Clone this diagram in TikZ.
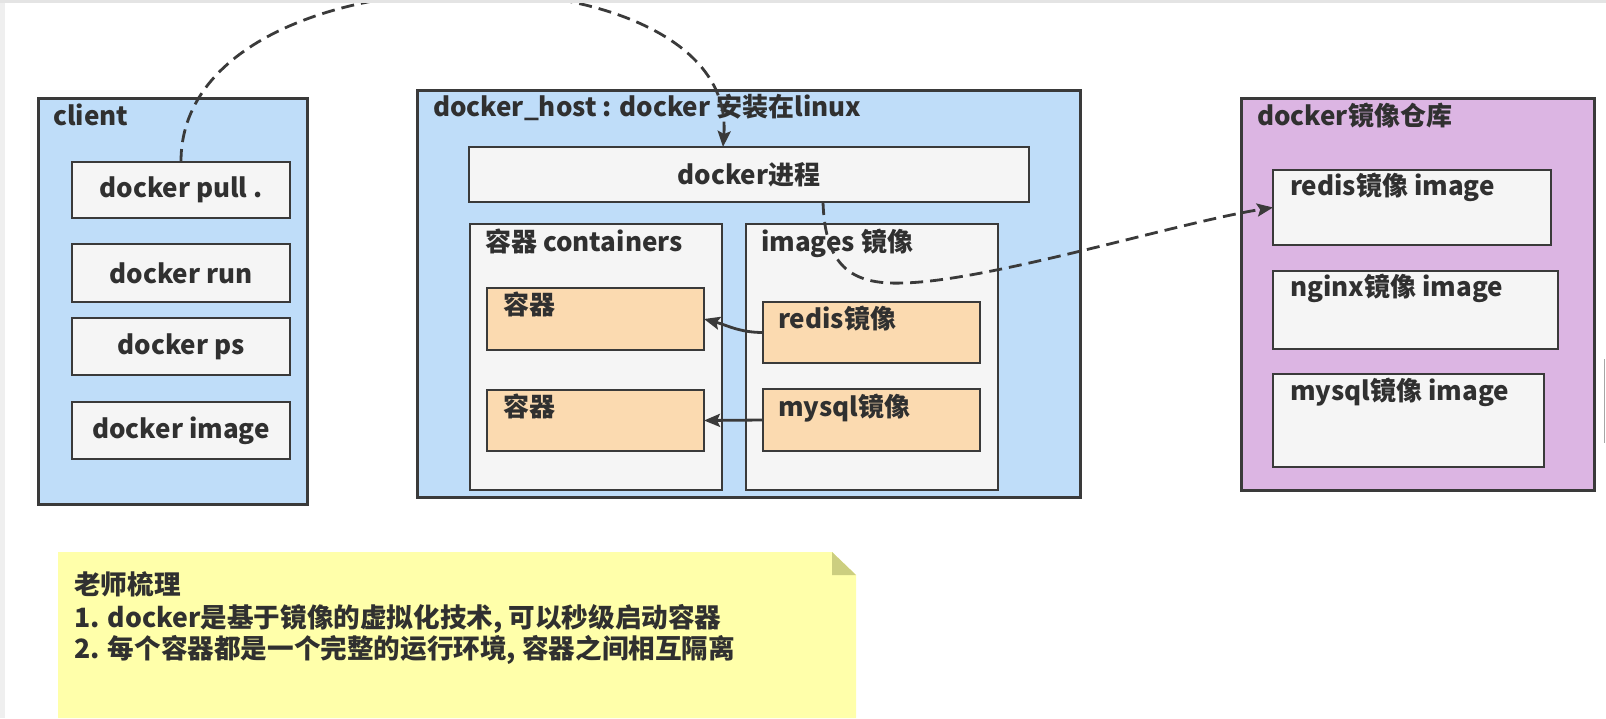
\documentclass[tikz,border=0pt]{standalone}
\usepackage{fontspec}
\setmainfont{Noto Sans CJK SC}
\usetikzlibrary{arrows.meta,calc}
\definecolor{bluefill}{RGB}{191,221,249}
\definecolor{grayfill}{RGB}{245,245,245}
\definecolor{orangefill}{RGB}{251,218,176}
\definecolor{purplefill}{RGB}{220,181,227}
\definecolor{notefill}{RGB}{255,255,170}
\definecolor{notefold}{RGB}{204,206,128}
\definecolor{edge}{RGB}{58,58,58}
\definecolor{txt}{RGB}{48,48,48}
\definecolor{framegray}{RGB}{228,228,228}
\begin{document}
\begin{tikzpicture}[x=1pt,y=-1pt,
  boxbase/.style={draw=edge,anchor=north west,inner sep=0pt,outer sep=0pt},
  bigbox/.style={boxbase,line width=3pt,fill=bluefill},
  repobox/.style={boxbase,line width=3pt,fill=purplefill},
  graybox/.style={boxbase,line width=2.5pt,fill=grayfill,text=txt,font=\fontsize{26}{30}\selectfont\bfseries},
  orangebox/.style={boxbase,line width=2.5pt,fill=orangefill},
  lbl/.style={anchor=base west,inner sep=0pt,text=txt,font=\fontsize{26}{30}\selectfont\bfseries},
  notelbl/.style={anchor=base west,inner sep=0pt,text=txt,font=\fontsize{26.6}{30}\selectfont\bfseries},
  dashedarrow/.style={draw=edge,line width=2.8pt,dash pattern=on 13pt off 7pt,-{Stealth[length=16pt,width=13pt,inset=3pt]}},
  solidarrow/.style={draw=edge,line width=2.8pt,-{Stealth[length=16pt,width=13pt,inset=3pt]}},
]
\useasboundingbox (0,0) rectangle (1606,718);
\fill[white] (0,0) rectangle (1606,718);
\fill[framegray!60] (0,0) rectangle (5,718);
\fill[framegray] (0,0) rectangle (1606,3);
\draw[gray!70,line width=1.2pt] (1604.5,359) -- (1604.5,443);

% client
\node[bigbox,minimum width=269pt,minimum height=406pt] (client) at (38,98) {};
\node[lbl] (clientT) at (53,125) {client};
\node[graybox,minimum width=218pt,minimum height=56pt] (pull) at (72,162) {docker pull .};
\node[graybox,minimum width=218pt,minimum height=58pt] (run) at (72,244) {docker run};
\node[graybox,minimum width=218pt,minimum height=57pt] (ps) at (72,318) {docker ps};
\node[graybox,minimum width=218pt,minimum height=57pt] (img) at (72,402) {docker image};

% docker host
\node[bigbox,minimum width=663pt,minimum height=407pt] (host) at (417,90) {};
\node[lbl] (hostT) at (433,116) {docker\_host : docker 安装在linux};
\node[graybox,minimum width=560pt,minimum height=55pt] (proc) at (469,147) {docker进程};
\node[graybox,minimum width=252pt,minimum height=266pt] (cont) at (470,224) {};
\node[lbl] (contT) at (485,251) {容器 containers};
\node[graybox,minimum width=252pt,minimum height=266pt] (imgs) at (746,224) {};
\node[lbl] (imgsT) at (761,251) {images 镜像};
\node[orangebox,minimum width=217pt,minimum height=62pt] (c1) at (487,288) {};
\node[lbl] (c1T) at (503,314) {容器};
\node[orangebox,minimum width=217pt,minimum height=61pt] (c2) at (487,390) {};
\node[lbl] (c2T) at (503,416) {容器};
\node[orangebox,minimum width=217pt,minimum height=61pt] (redis) at (763,302) {};
\node[lbl] (redisT) at (778,328) {redis镜像};
\node[orangebox,minimum width=217pt,minimum height=62pt] (mysql) at (763,389) {};
\node[lbl] (mysqlT) at (778,416) {mysql镜像};

% registry
\node[repobox,minimum width=353pt,minimum height=392pt] (repo) at (1241,98) {};
\node[lbl] (repoT) at (1257,125) {docker镜像仓库};
\node[graybox,minimum width=278pt,minimum height=75pt] (r1) at (1273,170) {};
\node[lbl] (r1T) at (1290,195) {redis镜像 image};
\node[graybox,minimum width=285pt,minimum height=78pt] (r2) at (1273,271) {};
\node[lbl] (r2T) at (1290,296) {nginx镜像 image};
\node[graybox,minimum width=271pt,minimum height=93pt] (r3) at (1273,374) {};
\node[lbl] (r3T) at (1290,400) {mysql镜像 image};

% note
\fill[notefill] (58,552) -- (832,552) -- (856,575) -- (856,718) -- (58,718) -- cycle;
\fill[notefold] (832,552) -- (856,575) -- (832,575) -- cycle;
\node[notelbl] (n1) at (74,594) {老师梳理};
\node[notelbl] (n2) at (74,627) {1. docker是基于镜像的虚拟化技术, 可以秒级启动容器};
\node[notelbl] (n3) at (74,658) {2. 每个容器都是一个完整的运行环境, 容器之间相互隔离};

% connectors
\begin{scope}
\clip (0,3) rectangle (1606,718);
\draw[dashedarrow] (pull.north) .. controls (180,-60) and (738,-60) .. ($(proc.north)+(-26,0)$);
\end{scope}
\draw[dashedarrow] ($(proc.south)+(74,0)$) .. controls +(2,63) and (850,285) .. (903,283)
  .. controls (990,281) and (1180,222) .. (r1.west);
\draw[solidarrow] (redis.west) to[out=180,in=-15] (c1.east);
\draw[solidarrow] (mysql.west) -- (c2.east);
\end{tikzpicture}
\end{document}
